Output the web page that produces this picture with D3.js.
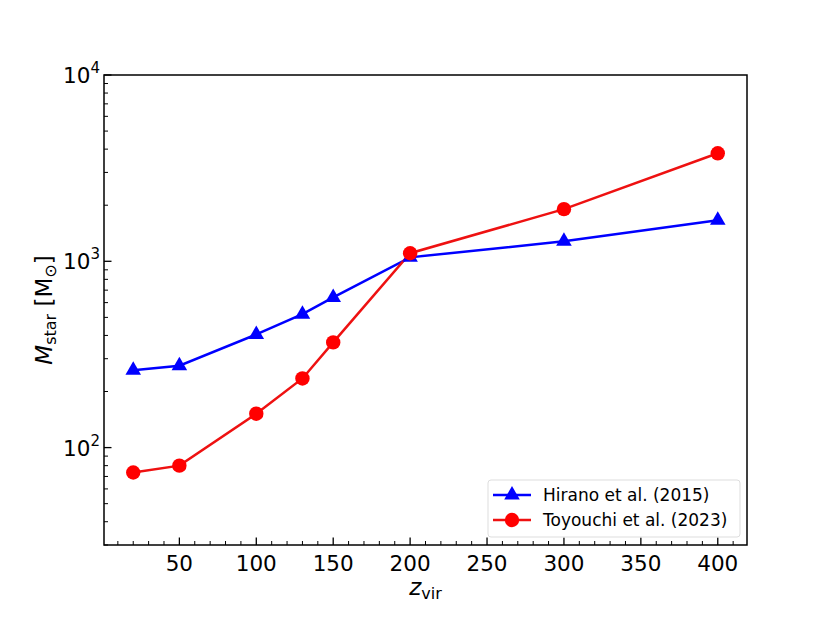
<!DOCTYPE html>
<html>
<head>
<meta charset="utf-8">
<script src="https://cdn.jsdelivr.net/npm/d3@7"></script>
<style>
  body { margin: 0; background: #fff; }
  text { font-family: "DejaVu Sans", sans-serif; fill: #000; }
</style>
</head>
<body>
<div id="chart"></div>
<script>
// data
var zvir = [20, 50, 100, 130, 150, 200, 300, 400];
var hirano = [260, 275, 405, 520, 640, 1050, 1280, 1660];
var toyouchi = [73.5, 80, 152, 235, 367, 1105, 1905, 3800];
var xTicks = [50, 100, 150, 200, 250, 300, 350, 400];
var yTicks = [100, 1000, 10000];
var seriesNames = ["Hirano et al. (2015)", "Toyouchi et al. (2023)"];

var svgWidth = 830;
var svgHeight = 623;
var margin = { top: 75, right: 83, bottom: 78, left: 104 };
var width = svgWidth - margin.left - margin.right;
var height = svgHeight - margin.top - margin.bottom;

var svg = d3.select("#chart").append("svg")
  .attr("width", svgWidth)
  .attr("height", svgHeight);

var chartGroup = svg.append("g")
  .attr("transform", `translate(${margin.left}, ${margin.top})`);

var xScale = d3.scaleLinear().domain([1, 419]).range([0, width]);
var yScale = d3.scaleLog().domain([30, 10000]).range([height, 0]);

// minor ticks
var xMinor = d3.range(10, 420, 10).filter(d => d % 50 !== 0);
var yMinor = [];
[10, 100, 1000].forEach(function(dec) {
  for (var k = 2; k <= 9; k++) {
    var v = k * dec;
    if (v >= 30 && v < 10000) yMinor.push(v);
  }
});

chartGroup.selectAll(".xminor").data(xMinor).enter().append("line")
  .attr("x1", d => xScale(d)).attr("x2", d => xScale(d))
  .attr("y1", height).attr("y2", height - 4)
  .attr("stroke", "#000").attr("stroke-width", 1);
chartGroup.selectAll(".xmajor").data(xTicks).enter().append("line")
  .attr("x1", d => xScale(d)).attr("x2", d => xScale(d))
  .attr("y1", height).attr("y2", height - 7.5)
  .attr("stroke", "#000").attr("stroke-width", 1.3);
chartGroup.selectAll(".xlabel").data(xTicks).enter().append("text")
  .attr("x", d => xScale(d)).attr("y", height + 26)
  .attr("text-anchor", "middle").attr("font-size", "21.5px")
  .text(d => d);

chartGroup.selectAll(".yminor").data(yMinor).enter().append("line")
  .attr("x1", 0).attr("x2", 4)
  .attr("y1", d => yScale(d)).attr("y2", d => yScale(d))
  .attr("stroke", "#000").attr("stroke-width", 1);
chartGroup.selectAll(".ymajor").data(yTicks).enter().append("line")
  .attr("x1", 0).attr("x2", 7.5)
  .attr("y1", d => yScale(d)).attr("y2", d => yScale(d))
  .attr("stroke", "#000").attr("stroke-width", 1.3);
var yl = chartGroup.selectAll(".ylabel").data(yTicks).enter().append("text")
  .attr("x", -4).attr("y", d => yScale(d) + 8)
  .attr("text-anchor", "end").attr("font-size", "21.5px");
yl.append("tspan").text("10");
yl.append("tspan").attr("font-size", "15px").attr("dy", "-10")
  .text(d => Math.round(Math.log10(d)));

// lines and markers
var line = d3.line().x(d => xScale(d[0])).y(d => yScale(d[1]));
var hData = zvir.map((z, i) => [z, hirano[i]]);
var tData = zvir.map((z, i) => [z, toyouchi[i]]);

chartGroup.append("path").datum(hData)
  .attr("d", line).attr("fill", "none")
  .attr("stroke", "#0000ff").attr("stroke-width", 2.5);
chartGroup.append("path").datum(tData)
  .attr("d", line).attr("fill", "none")
  .attr("stroke", "#ee1111").attr("stroke-width", 2.5);

var tri = d3.symbol().type(d3.symbolTriangle).size(105);
chartGroup.selectAll(".tri").data(hData).enter().append("path")
  .attr("d", tri)
  .attr("transform", d => `translate(${xScale(d[0])}, ${yScale(d[1])})`)
  .attr("fill", "#0000ff");
chartGroup.selectAll(".dot").data(tData).enter().append("circle")
  .attr("cx", d => xScale(d[0])).attr("cy", d => yScale(d[1]))
  .attr("r", 7.2).attr("fill", "#ff0000");

// frame
chartGroup.append("rect")
  .attr("width", width).attr("height", height)
  .attr("fill", "none").attr("stroke", "#000").attr("stroke-width", 1.5);

// axis titles
var xt = chartGroup.append("text")
  .attr("x", width / 2).attr("y", height + 50)
  .attr("text-anchor", "middle").attr("font-size", "23px");
xt.append("tspan").attr("font-style", "italic").text("z");
xt.append("tspan").attr("font-size", "16px").attr("dy", "4").text("vir");

var yt = chartGroup.append("text")
  .attr("transform", `translate(-52, ${height / 2}) rotate(-90)`)
  .attr("text-anchor", "middle").attr("font-size", "23px");
yt.append("tspan").attr("font-style", "italic").text("M");
yt.append("tspan").attr("font-size", "16px").attr("dy", "4").text("star");
yt.append("tspan").attr("dy", "-4").text(" [M");
yt.append("tspan").attr("font-size", "16px").attr("dy", "4").text("\u2299");
yt.append("tspan").attr("dy", "-4").text("]");

// legend
var legend = chartGroup.append("g")
  .attr("transform", `translate(${width - 259}, ${height - 65})`);
legend.append("rect")
  .attr("width", 252).attr("height", 57).attr("rx", 3)
  .attr("fill", "#fff").attr("fill-opacity", 0.8)
  .attr("stroke", "#ddd").attr("stroke-width", 1);
var colors = ["#0000ff", "#ee1111"];
seriesNames.forEach(function(name, i) {
  var gy = 15 + i * 25;
  legend.append("line")
    .attr("x1", 5).attr("x2", 43).attr("y1", gy).attr("y2", gy)
    .attr("stroke", colors[i]).attr("stroke-width", 2.5);
  if (i === 0) {
    legend.append("path").attr("d", tri)
      .attr("transform", `translate(24, ${gy})`).attr("fill", "#0000ff");
  } else {
    legend.append("circle").attr("cx", 24).attr("cy", gy).attr("r", 7.2)
      .attr("fill", "#ff0000");
  }
  legend.append("text")
    .attr("x", 55).attr("y", gy + 6)
    .attr("font-size", "17px")
    .text(name);
});
</script>
</body>
</html>
